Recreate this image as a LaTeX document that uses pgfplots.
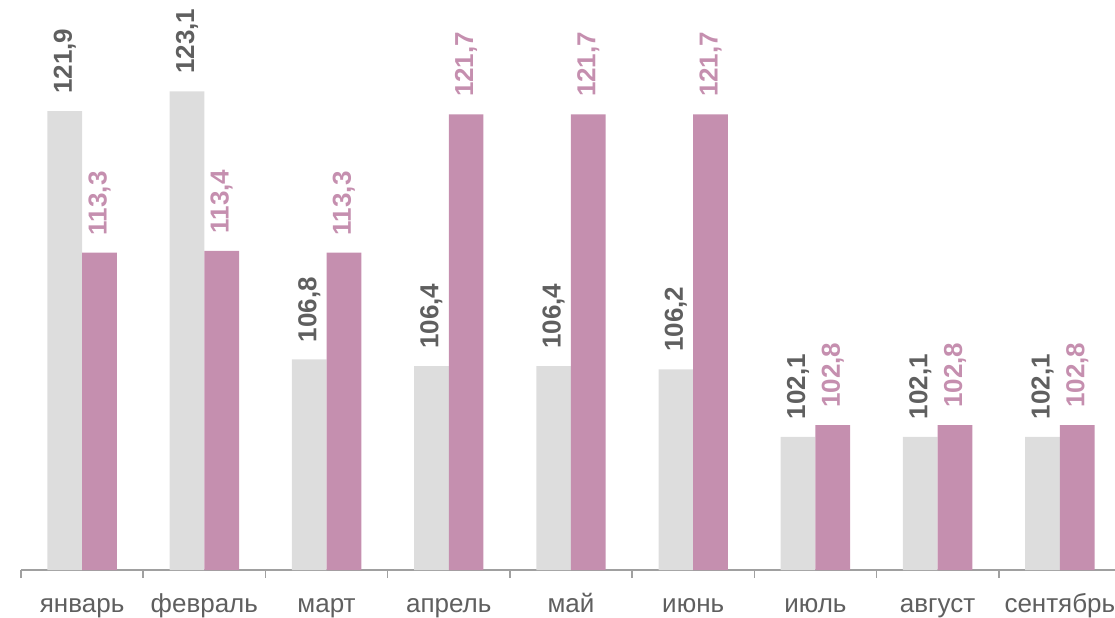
\documentclass[border=0pt]{standalone}
\usepackage{fontspec}
\setmainfont{Liberation Sans}
\usepackage{pgfplots}
\pgfplotsset{compat=1.18}
\definecolor{barGray}{HTML}{DDDDDD}
\definecolor{barPink}{HTML}{C58FAF}
\definecolor{lblGray}{HTML}{5F5F5F}
\definecolor{axGray}{HTML}{A0A0A0}
\begin{document}
\begin{tikzpicture}
\begin{axis}[
  at={(0,0)}, anchor=south west,
  scale only axis, width=550pt, height=285pt,
  xmin=-0.5, xmax=8.5, ymin=94, ymax=128.65,
  ybar=0pt, bar width=17.35pt,
  axis x line*=bottom, axis y line=none,
  x axis line style={axGray, line width=0.75pt, -},
  tick align=outside,
  xtick={0,...,8},
  xticklabels={январь,февраль,март,апрель,май,июнь,июль,август,сентябрь},
  major tick length=0pt,
  xticklabel style={anchor=base, yshift=-21pt, text=lblGray, font=\fontsize{13}{13}\selectfont},
  extra x ticks={-0.5,0.5,...,8.5},
  extra x tick labels={},
  extra x tick style={major tick length=4pt, tick style={axGray, line width=0.75pt}},
  nodes near coords,
  every node near coord/.append style={rotate=90, anchor=west, inner xsep=8.5pt, inner ysep=0pt, font=\bfseries\fontsize{13}{13}\selectfont},
  /pgf/number format/use comma,
  /pgf/number format/fixed,
  /pgf/number format/fixed zerofill,
  /pgf/number format/precision=1,
  /pgf/number format/assume math mode=true,
]
\addplot[fill=barGray, draw=none, every node near coord/.append style={text=lblGray}] coordinates {
(0,121.9) (1,123.1) (2,106.8) (3,106.4) (4,106.4) (5,106.2) (6,102.1) (7,102.1) (8,102.1)};
\addplot[fill=barPink, draw=none, every node near coord/.append style={text=barPink}] coordinates {
(0,113.3) (1,113.4) (2,113.3) (3,121.7) (4,121.7) (5,121.7) (6,102.8) (7,102.8) (8,102.8)};
\end{axis}
\pgfresetboundingbox
\path[use as bounding box] (-10.5pt,-23.5pt) rectangle (547pt,285pt);
\end{tikzpicture}
\end{document}
